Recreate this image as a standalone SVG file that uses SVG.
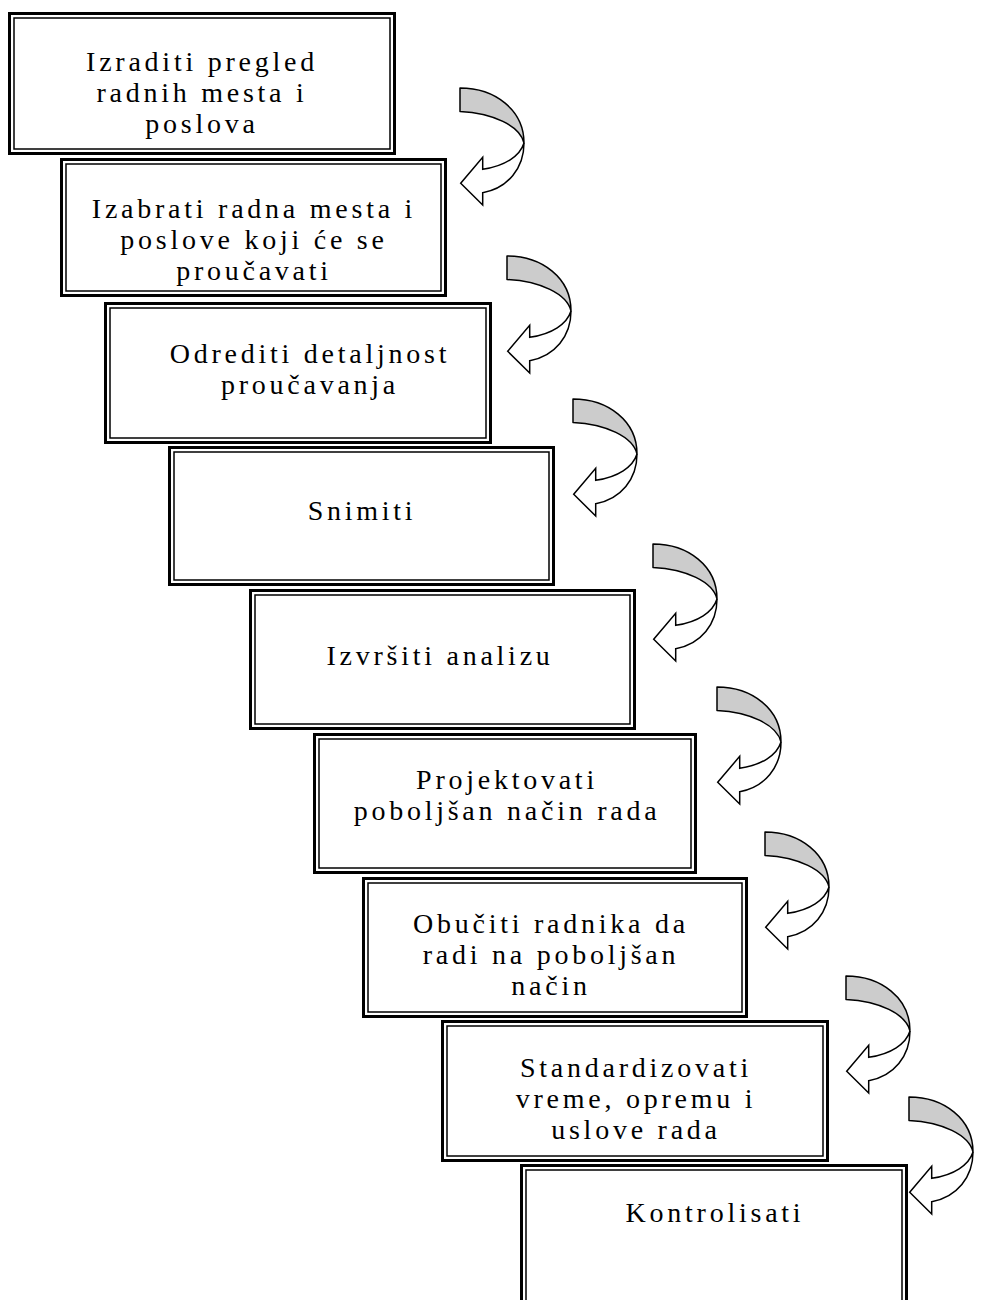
<svg xmlns="http://www.w3.org/2000/svg" xmlns:xlink="http://www.w3.org/1999/xlink" width="982" height="1300" viewBox="0 0 982 1300">
<style>
.o{fill:#fff;stroke:#000;stroke-width:3}
.i{fill:none;stroke:#000;stroke-width:1.5}
.t{font-family:"Liberation Serif","Times New Roman",serif;font-size:28px;letter-spacing:3.75px;fill:#000;text-anchor:middle}
.sh{fill:#cccccc;stroke:#000;stroke-width:1.5;stroke-linejoin:round}
.wh{fill:#fff;stroke:#000;stroke-width:1.5;stroke-linejoin:miter}
</style>
<defs>
<g id="carrow">
<path class="wh" d="M64,55 C64,80 48,100 22.7,104.7 L22.7,117 L0.7,95.3 L22.7,69.3 L22.7,81.3 C45,78 60,68 64,55 Z"/>
<path class="sh" d="M0,0 C35,0 64,22 64,55 C60,38 33,25 0,23.5 Z"/>
</g>
</defs>
<rect width="982" height="1300" fill="#fff"/>
<g id="node1">
<rect class="o" x="9.5" y="13.5" width="385" height="140"/>
<rect class="i" x="14" y="18" width="376" height="131"/>
<text class="t" x="202" y="71">Izraditi pregled</text>
<text class="t" x="202" y="102">radnih mesta i</text>
<text class="t" x="202" y="133">poslova</text>
</g>
<g id="node2">
<rect class="o" x="61.5" y="159.5" width="384" height="136"/>
<rect class="i" x="66" y="164" width="375" height="127"/>
<text class="t" x="254" y="218">Izabrati radna mesta i</text>
<text class="t" x="254" y="249">poslove koji će se</text>
<text class="t" x="254" y="280">proučavati</text>
</g>
<g id="node3">
<rect class="o" x="105.5" y="303.5" width="385" height="139"/>
<rect class="i" x="110" y="308" width="376" height="130"/>
<text class="t" x="310" y="363">Odrediti detaljnost</text>
<text class="t" x="310" y="394">proučavanja</text>
</g>
<g id="node4">
<rect class="o" x="169.5" y="447.5" width="384" height="137"/>
<rect class="i" x="174" y="452" width="375" height="128"/>
<text class="t" x="362" y="520">Snimiti</text>
</g>
<g id="node5">
<rect class="o" x="250.5" y="590.5" width="384" height="138"/>
<rect class="i" x="255" y="595" width="375" height="129"/>
<text class="t" x="440" y="665">Izvršiti analizu</text>
</g>
<g id="node6">
<rect class="o" x="314.5" y="734.5" width="381" height="138"/>
<rect class="i" x="319" y="739" width="372" height="129"/>
<text class="t" x="507" y="789">Projektovati</text>
<text class="t" x="507" y="820">poboljšan način rada</text>
</g>
<g id="node7">
<rect class="o" x="363.5" y="878.5" width="383" height="138"/>
<rect class="i" x="368" y="883" width="374" height="129"/>
<text class="t" x="551" y="933">Obučiti radnika da</text>
<text class="t" x="551" y="964">radi na poboljšan</text>
<text class="t" x="551" y="995">način</text>
</g>
<g id="node8">
<rect class="o" x="442.5" y="1021.5" width="385" height="139"/>
<rect class="i" x="447" y="1026" width="376" height="130"/>
<text class="t" x="636" y="1077">Standardizovati</text>
<text class="t" x="636" y="1108">vreme, opremu i</text>
<text class="t" x="636" y="1139">uslove rada</text>
</g>
<g id="node9">
<rect class="o" x="521.5" y="1165.5" width="385" height="160"/>
<rect class="i" x="526" y="1170" width="376" height="151"/>
<text class="t" x="715" y="1222">Kontrolisati</text>
</g>
<g id="connectors">
<use xlink:href="#carrow" href="#carrow" transform="translate(460,88)"/>
<use xlink:href="#carrow" href="#carrow" transform="translate(507,256)"/>
<use xlink:href="#carrow" href="#carrow" transform="translate(573,399)"/>
<use xlink:href="#carrow" href="#carrow" transform="translate(653,544)"/>
<use xlink:href="#carrow" href="#carrow" transform="translate(717,687)"/>
<use xlink:href="#carrow" href="#carrow" transform="translate(765,832)"/>
<use xlink:href="#carrow" href="#carrow" transform="translate(846,976)"/>
<use xlink:href="#carrow" href="#carrow" transform="translate(909,1097)"/>
</g>
</svg>
